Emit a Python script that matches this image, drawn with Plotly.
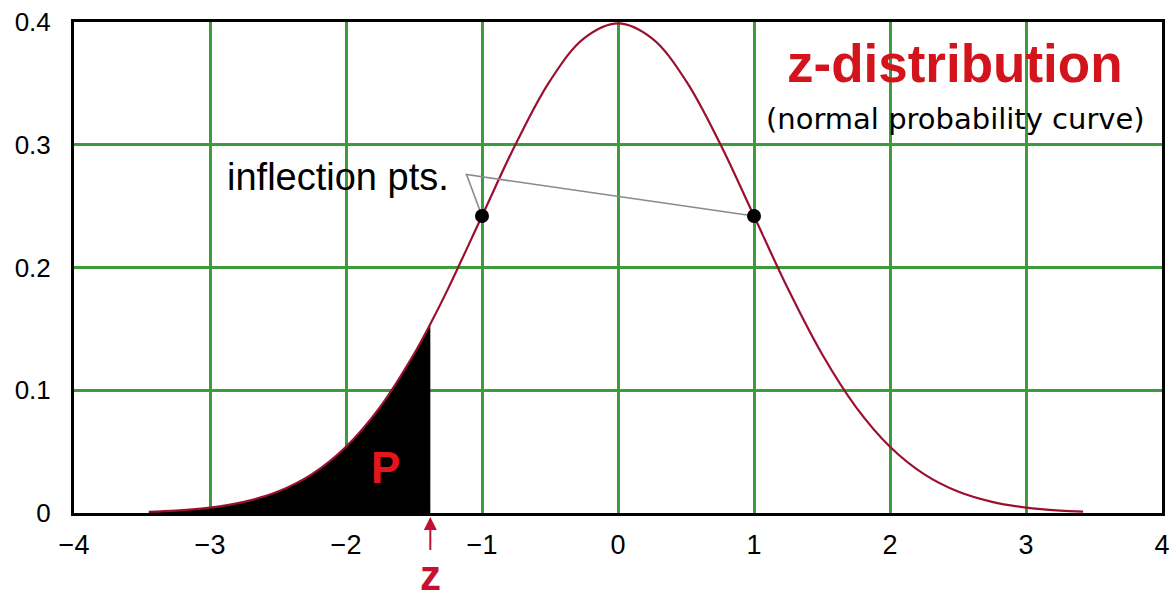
import plotly.graph_objects as go

# normal curve, values
curve_x = [-3.45, -3.25, -3.0, -2.75, -2.5, -2.25, -2.0, -1.75, -1.5, -1.38, -1.25, -1.0,
           -0.75, -0.5, -0.25, 0.0, 0.25, 0.5, 0.75, 1.0, 1.25, 1.5, 1.75, 2.0, 2.25,
           2.5, 2.75, 3.0, 3.25, 3.42]
curve_y = [0.0010, 0.0020, 0.0044, 0.0091, 0.0175, 0.0317, 0.0540, 0.0863, 0.1295, 0.1539,
           0.1826, 0.2420, 0.3011, 0.3521, 0.3867, 0.3989, 0.3867, 0.3521, 0.3011, 0.2420,
           0.1826, 0.1295, 0.0863, 0.0540, 0.0317, 0.0175, 0.0091, 0.0044, 0.0020, 0.0012]

z_value = -1.38

# inflection points and the pointer apex
infl_x = [-1.0, 1.0]
infl_y = [0.242, 0.242]
pointer_x = -1.114
pointer_y = 0.2757

x_ticks = [-4, -3, -2, -1, 0, 1, 2, 3, 4]
x_labels = ["\u22124", "\u22123", "\u22122", "\u22121", "0", "1", "2", "3", "4"]
y_ticks = [0, 0.1, 0.2, 0.3, 0.4]
y_labels = ["0", "0.1", "0.2", "0.3", "0.4"]

FONT = "Liberation Sans, Arial, sans-serif"
GREEN = "#3c9c3c"

# shaded tail up to z
p_x = [x for x in curve_x if x <= z_value]
p_y = curve_y[:len(p_x)]

fig = go.Figure()
fig.add_trace(go.Scatter(x=p_x, y=p_y, mode="lines", fill="tozeroy",
                         fillcolor="black", line=dict(color="black", width=0, shape="spline"),
                         hoverinfo="skip"))
fig.add_trace(go.Scatter(x=curve_x, y=curve_y, mode="lines",
                         line=dict(color="#9b1030", width=2.2, shape="spline")))
fig.add_trace(go.Scatter(x=[infl_x[0], pointer_x, infl_x[1]],
                         y=[infl_y[0], pointer_y, infl_y[1]],
                         mode="lines", line=dict(color="#8a8a8a", width=1.6)))
fig.add_trace(go.Scatter(x=infl_x, y=infl_y, mode="markers",
                         marker=dict(color="black", size=14)))

# white boxes behind the labels (they hide the grid)
fig.add_shape(type="rect", x0=0.87, x1=3.96, y0=0.302, y1=0.398, layer="below",
              fillcolor="white", line=dict(width=0))
fig.add_shape(type="rect", x0=-2.935, x1=-1.17, y0=0.254, y1=0.298, layer="below",
              fillcolor="white", line=dict(width=0))

fig.add_annotation(x=2.48, y=0.366, text="<b>z-distribution</b>", showarrow=False,
                   font=dict(family=FONT, size=53, color="#d4141c"))
fig.add_annotation(x=2.48, y=0.321, text="(normal probability curve)", showarrow=False,
                   font=dict(family="DejaVu Sans, sans-serif", size=29, color="black"))
fig.add_annotation(x=-2.06, y=0.274, text="inflection pts.", showarrow=False,
                   font=dict(family=FONT, size=38, color="black"))
fig.add_annotation(x=-1.71, y=0.037, text="<b>P</b>", showarrow=False,
                   font=dict(family=FONT, size=44, color="#e8141c"))
fig.add_annotation(x=z_value, y=0, text="<b>z</b>", showarrow=True,
                   arrowhead=2, arrowsize=1.3, arrowwidth=2, arrowcolor="#c01030",
                   ax=0, ay=62, standoff=4,
                   font=dict(family=FONT, size=42, color="#c8102e"))

fig.update_xaxes(range=[-4, 4], tickvals=x_ticks, ticktext=x_labels,
                 showgrid=True, gridcolor=GREEN, gridwidth=2.5, zeroline=False,
                 showline=True, linecolor="black", linewidth=3, mirror=True,
                 ticks="", ticklabelstandoff=6,
                 tickfont=dict(family=FONT, size=27, color="black"))
fig.update_yaxes(range=[0, 0.4], tickvals=y_ticks, ticktext=y_labels,
                 showgrid=True, gridcolor=GREEN, gridwidth=2.5, zeroline=False,
                 showline=True, linecolor="black", linewidth=3, mirror=True,
                 ticks="", ticklabelstandoff=15,
                 tickfont=dict(family=FONT, size=26, color="black"))

fig.update_layout(width=1176, height=599, showlegend=False,
                  margin=dict(l=74, r=6, t=22, b=86),
                  plot_bgcolor="white", paper_bgcolor="white")

fig.write_html("out.html", config={"displayModeBar": False},
               post_script="document.body.style.margin='0';")
